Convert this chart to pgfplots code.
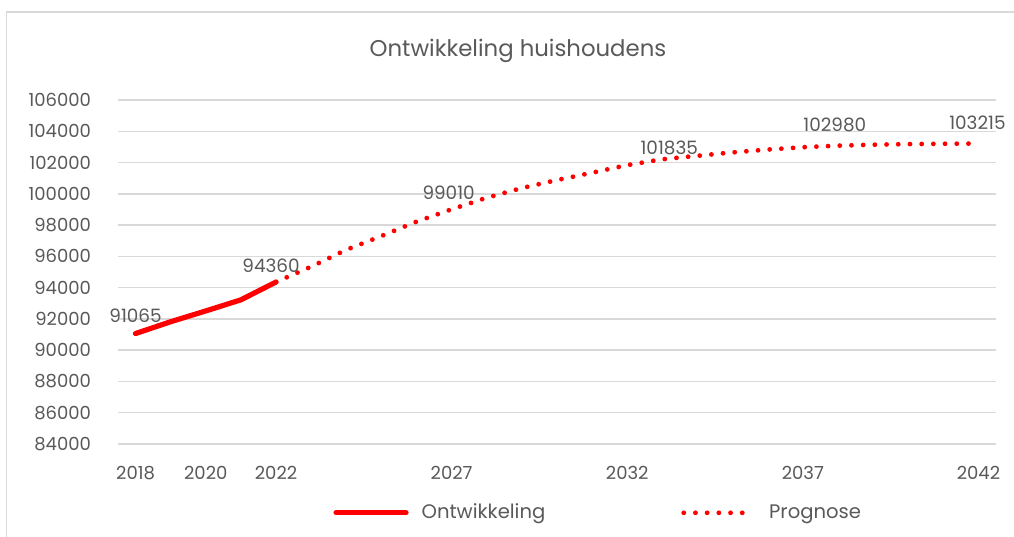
\documentclass[border=0pt]{standalone}
\usepackage{pgfplots}
\pgfplotsset{compat=1.18}
\usepackage{fontspec}
\setmainfont{Poppins}
\definecolor{txtgray}{HTML}{595959}
\definecolor{gridgray}{HTML}{D9D9D9}
\definecolor{serieRed}{HTML}{FF0000}

\begin{document}
\begin{tikzpicture}
% bounding box of the whole image (1px = 0.5bp, axis corner at px 118,444)
\useasboundingbox (-59bp,-46.5bp) rectangle (448bp,222bp);
\draw[gridgray, line width=0.75bp] (-55.75bp,-50bp) -- (-55.75bp,216bp) -- (450bp,216bp);
\node[text=txtgray, font=\fontsize{11.4bp}{13bp}\selectfont] at (200bp,196.5bp) {Ontwikkeling huishoudens};

\begin{axis}[
    at={(0,0)}, anchor=south west,
    scale only axis,
    width=439bp, height=172bp,
    xmin=2017.5, xmax=2042.5,
    ymin=84000, ymax=106000,
    xtick={2018,2020,2022,2027,2032,2037,2042},
    ytick distance=2000,
    scaled y ticks=false,
    ymajorgrids,
    grid style={gridgray, line width=0.75bp},
    axis line style={draw=none},
    tick style={draw=none},
    major tick length=0pt,
    /pgf/number format/assume math mode=true,
    /pgf/number format/1000 sep={},
    /pgf/number format/fixed,
    ticklabel style={text=txtgray, font=\fontsize{9bp}{10bp}\selectfont},
    yticklabel style={anchor=east, xshift=-10bp},
    xticklabel style={anchor=north, yshift=-7.5bp},
    legend columns=2,
    legend cell align=left,
    legend style={draw=none, fill=none, inner sep=0pt,
        at={(0.2449,-0.2)}, anchor=west,
        font=\fontsize{9.8bp}{11bp}\selectfont, text=txtgray,
        /tikz/every even column/.append style={column sep=66bp}},
    legend image code/.code={\draw[#1] (0bp,0bp) -- (35bp,0bp); \path (39.5bp,0bp);},
    clip=false,
]
\addplot[serieRed, line width=2.6bp, line cap=round] coordinates {
    (2018,91065) (2019,91820) (2020,92510) (2021,93220) (2022,94360)
};
\addlegendentry{Ontwikkeling}
\addplot[serieRed, line width=2.4bp, line cap=round, dash pattern=on 0pt off 5.85bp] coordinates {
    (2022,94360) (2023,95340) (2024,96420) (2025,97300) (2026,98220)
    (2027,99010) (2028,99750) (2029,100370) (2030,100880) (2031,101350)
    (2032,101835) (2033,102210) (2034,102430) (2035,102650) (2036,102830)
    (2037,102980) (2038,103080) (2039,103140) (2040,103180) (2041,103200)
    (2042,103215)
};
\addlegendentry{Prognose}

% data labels
\tikzset{lbl/.style={text=txtgray, font=\fontsize{9.2bp}{10bp}\selectfont, inner sep=0pt}}
\node[lbl, yshift=9bp] at (axis cs:2018,91065) {91065};
\node[lbl, xshift=-2.5bp, yshift=8bp] at (axis cs:2022,94360) {94360};
\node[lbl, xshift=-1.5bp, yshift=8.5bp] at (axis cs:2027,99010) {99010};
\node[lbl, xshift=21bp, yshift=8.5bp] at (axis cs:2032,101835) {101835};
\node[lbl, xshift=16bp, yshift=11bp] at (axis cs:2037,102980) {102980};
\node[lbl, xshift=-0.5bp, yshift=10.5bp] at (axis cs:2042,103215) {103215};
\end{axis}
\end{tikzpicture}
\end{document}
